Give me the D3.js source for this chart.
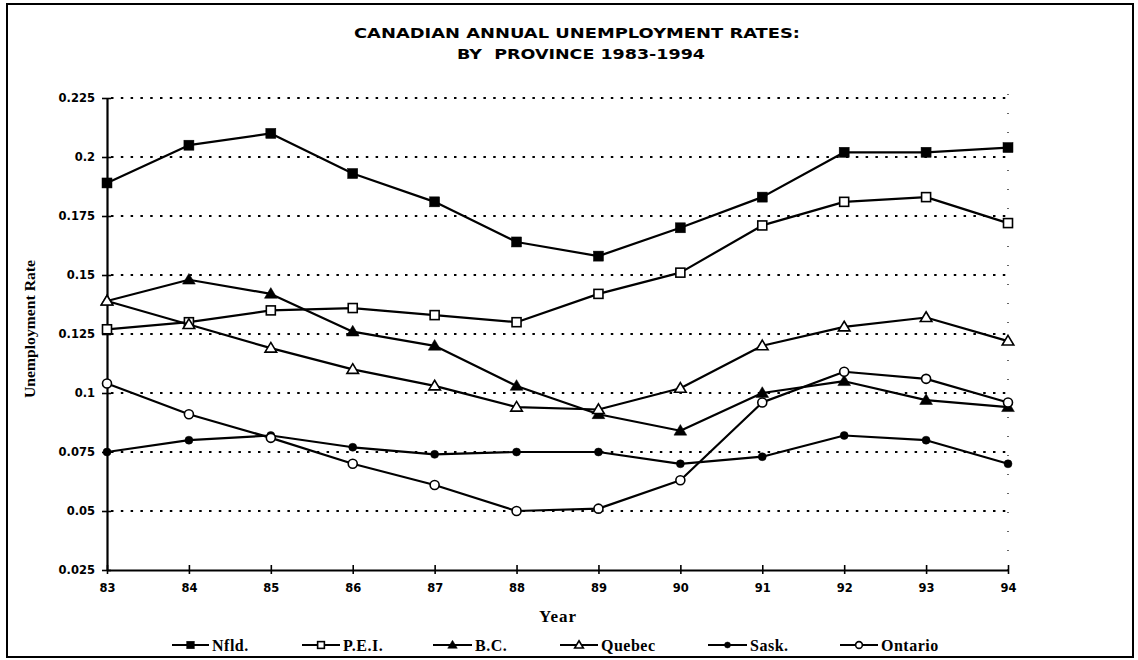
<!DOCTYPE html>
<html>
<head>
<meta charset="utf-8">
<script src="https://cdn.jsdelivr.net/npm/d3@7"></script>
<style>
  html, body { margin: 0; padding: 0; background: #fff; }
  svg { display: block; }
</style>
</head>
<body>
<svg id="chart" width="1138" height="660"></svg>
<script>
// Years on the x axis (two-digit labels)
const years = [83, 84, 85, 86, 87, 88, 89, 90, 91, 92, 93, 94];
const yTicks = [0.025, 0.05, 0.075, 0.1, 0.125, 0.15, 0.175, 0.2, 0.225];
const yTickLabels = ["0.025", "0.05", "0.075", "0.1", "0.125", "0.15", "0.175", "0.2", "0.225"];
const gridValues = [0.05, 0.075, 0.1, 0.125, 0.15, 0.175, 0.2, 0.225];

// Annual unemployment rate by province
const nfld    = [0.189, 0.205, 0.210, 0.193, 0.181, 0.164, 0.158, 0.170, 0.183, 0.202, 0.202, 0.204];
const pei     = [0.127, 0.130, 0.135, 0.136, 0.133, 0.130, 0.142, 0.151, 0.171, 0.181, 0.183, 0.172];
const bc      = [0.139, 0.148, 0.142, 0.126, 0.120, 0.103, 0.091, 0.084, 0.100, 0.105, 0.097, 0.094];
const quebec  = [0.139, 0.129, 0.119, 0.110, 0.103, 0.094, 0.093, 0.102, 0.120, 0.128, 0.132, 0.122];
const sask    = [0.075, 0.080, 0.082, 0.077, 0.074, 0.075, 0.075, 0.070, 0.073, 0.082, 0.080, 0.070];
const ontario = [0.104, 0.091, 0.081, 0.070, 0.061, 0.050, 0.051, 0.063, 0.096, 0.109, 0.106, 0.096];

const seriesNames = ["Nfld.", "P.E.I.", "B.C.", "Quebec", "Sask.", "Ontario"];
const seriesValues = [nfld, pei, bc, quebec, sask, ontario];
const markerKinds = ["squareFilled", "squareOpen", "triangleFilled", "triangleOpen", "circleFilled", "circleOpen"];

const svg = d3.select("#chart");

// Outer frame
svg.append("rect")
  .attr("x", 7).attr("y", 4).attr("width", 1126).attr("height", 653)
  .attr("fill", "none").attr("stroke", "#000").attr("stroke-width", 2);

// Title
const titleFont = "'DejaVu Sans', 'Liberation Sans', sans-serif";
svg.append("text")
  .attr("x", 577).attr("y", 38)
  .attr("text-anchor", "middle")
  .attr("font-family", titleFont).attr("font-weight", "bold").attr("font-size", 14)
  .attr("textLength", 446).attr("lengthAdjust", "spacingAndGlyphs")
  .text("CANADIAN ANNUAL UNEMPLOYMENT RATES:");
svg.append("text")
  .attr("x", 581).attr("y", 59)
  .attr("text-anchor", "middle")
  .attr("font-family", titleFont).attr("font-weight", "bold").attr("font-size", 14)
  .attr("textLength", 248).attr("lengthAdjust", "spacingAndGlyphs")
  .style("white-space", "pre")
  .text("BY  PROVINCE 1983-1994");

// Scales
const x = d3.scaleLinear().domain([83, 94]).range([107, 1008]);
const y = d3.scaleLinear().domain([0.025, 0.225]).range([570, 98]);

// Dotted gridlines
svg.append("g")
  .selectAll("line")
  .data(gridValues)
  .join("line")
  .attr("x1", x(83) + 4).attr("x2", x(94))
  .attr("y1", d => y(d)).attr("y2", d => y(d))
  .attr("stroke", "#000").attr("stroke-width", 2.2)
  .attr("stroke-dasharray", "2.5,7.3");

// Sparse dotted right edge
svg.append("line")
  .attr("x1", x(94)).attr("x2", x(94))
  .attr("y1", y(0.225) - 4).attr("y2", y(0.025))
  .attr("stroke", "#000").attr("stroke-width", 1.2)
  .attr("stroke-dasharray", "1,18");

const tickFont = "'DejaVu Sans', 'Liberation Sans', Arial, sans-serif";

// Y axis
const yAxis = d3.axisLeft(y)
  .tickValues(yTicks)
  .tickFormat((d, i) => yTickLabels[i])
  .tickSizeInner(5).tickSizeOuter(0).tickPadding(7);
const gy = svg.append("g").attr("transform", `translate(${x(83)},0)`).call(yAxis);
gy.select(".domain").attr("stroke-width", 2.2);
gy.selectAll(".tick line").attr("x1", 4).attr("stroke-width", 1.6);
gy.selectAll(".tick text")
  .attr("font-family", tickFont)
  .attr("font-weight", "bold").attr("font-size", 11.5).attr("fill", "#000");

// X axis
const xAxis = d3.axisBottom(x)
  .tickValues(years)
  .tickFormat(d => String(d))
  .tickSizeInner(4).tickSizeOuter(0).tickPadding(10);
const gx = svg.append("g").attr("transform", `translate(0,${y(0.025)})`).call(xAxis);
gx.select(".domain").attr("stroke-width", 2.2);
gx.selectAll(".tick line").attr("y1", -5).attr("stroke-width", 1.6);
gx.selectAll(".tick text")
  .attr("font-family", tickFont)
  .attr("font-weight", "bold").attr("font-size", 11.5).attr("fill", "#000");

// Axis titles
svg.append("text")
  .attr("transform", "translate(35,329) rotate(-90)")
  .attr("text-anchor", "middle")
  .attr("font-family", "'Liberation Serif', 'Times New Roman', serif")
  .attr("font-weight", "bold").attr("font-size", 14)
  .attr("textLength", 138).attr("lengthAdjust", "spacingAndGlyphs")
  .text("Unemployment Rate");
svg.append("text")
  .attr("x", 558).attr("y", 622)
  .attr("text-anchor", "middle")
  .attr("font-family", "'Liberation Serif', 'Times New Roman', serif")
  .attr("font-weight", "bold").attr("font-size", 17)
  .attr("letter-spacing", 1)
  .text("Year");

// Marker drawing helper
function drawMarker(g, kind, cx, cy, s) {
  const filled = kind.endsWith("Filled");
  const fill = filled ? "#000" : "#fff";
  const sw = 1.6;
  if (kind.startsWith("square")) {
    g.append("rect")
      .attr("x", cx - s / 2).attr("y", cy - s / 2)
      .attr("width", s).attr("height", s)
      .attr("fill", fill).attr("stroke", "#000").attr("stroke-width", filled ? 0.5 : sw);
  } else if (kind.startsWith("triangle")) {
    const h = s * 0.95;
    const pts = [[cx, cy - h * 0.6], [cx + s * 0.58, cy + h * 0.42], [cx - s * 0.58, cy + h * 0.42]];
    g.append("polygon")
      .attr("points", pts.map(p => p.join(",")).join(" "))
      .attr("fill", fill).attr("stroke", "#000").attr("stroke-width", filled ? 0.5 : sw)
      .attr("stroke-linejoin", "miter");
  } else {
    g.append("circle")
      .attr("cx", cx).attr("cy", cy).attr("r", s / 2)
      .attr("fill", fill).attr("stroke", "#000").attr("stroke-width", filled ? 0.5 : sw);
  }
}

const markerSize = { squareFilled: 10, squareOpen: 9, triangleFilled: 11, triangleOpen: 10, circleFilled: 8, circleOpen: 9 };

const line = d3.line().x((d, i) => x(years[i])).y(d => y(d));

// Series lines then markers
seriesValues.forEach((vals, si) => {
  const g = svg.append("g");
  g.append("path")
    .attr("d", line(vals))
    .attr("fill", "none").attr("stroke", "#000").attr("stroke-width", 2.2)
    .attr("stroke-linejoin", "round");
  vals.forEach((v, i) => drawMarker(g, markerKinds[si], x(years[i]), y(v), markerSize[markerKinds[si]]));
});

// Legend
const legendItems = [
  { x: 172, w: 37 }, { x: 302, w: 38 }, { x: 433, w: 39 },
  { x: 560, w: 38 }, { x: 708, w: 39 }, { x: 840, w: 38 }
];
const legendY = 645;
const lg = svg.append("g");
seriesNames.forEach((name, i) => {
  const it = legendItems[i];
  lg.append("line")
    .attr("x1", it.x).attr("x2", it.x + it.w)
    .attr("y1", legendY).attr("y2", legendY)
    .attr("stroke", "#000").attr("stroke-width", 2);
  drawMarker(lg, markerKinds[i], it.x + it.w / 2, legendY, markerSize[markerKinds[i]] * 0.75);
  lg.append("text")
    .attr("x", it.x + it.w + 3).attr("y", legendY + 5.5)
    .attr("font-family", "'Liberation Serif', 'Times New Roman', serif")
    .attr("font-weight", "bold")
    .attr("font-size", 16).attr("fill", "#000")
    .attr("letter-spacing", 0.5)
    .text(name);
});
</script>
</body>
</html>
